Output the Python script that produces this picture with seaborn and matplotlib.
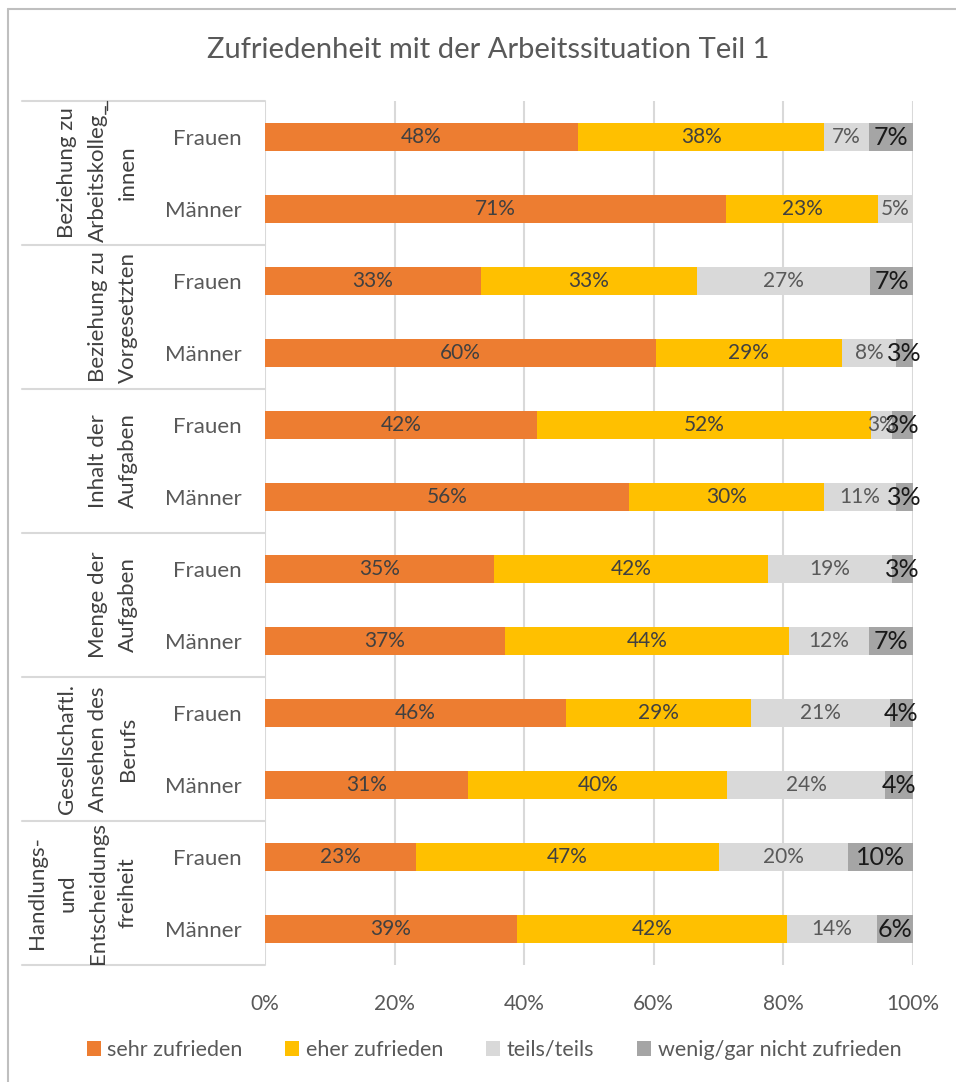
import numpy as np
import pandas as pd
import matplotlib
matplotlib.use("Agg")
import matplotlib.pyplot as plt
import matplotlib.transforms as mtransforms
from matplotlib.lines import Line2D
from matplotlib.patches import Patch
import seaborn as sns

# ---- data -------------------------------------------------------------
title = "Zufriedenheit mit der Arbeitssituation Teil 1"
groups = [
    "Beziehung zu\nArbeitskolleg_\ninnen",
    "Beziehung zu\nVorgesetzten",
    "Inhalt der\nAufgaben",
    "Menge der\nAufgaben",
    "Gesellschaftl.\nAnsehen des\nBerufs",
    "Handlungs-\nund\nEntscheidungs\nfreiheit",
]
genders = ["Frauen", "Männer"]
levels = ["sehr zufrieden", "eher zufrieden", "teils/teils", "wenig/gar nicht zufrieden"]

sehr = [48.3, 71.2, 33.3, 60.3, 42.0, 56.2, 35.3, 37.0, 46.4, 31.4, 23.3, 38.9]
eher = [38.0, 23.4, 33.4, 28.7, 51.5, 30.1, 42.3, 43.9, 28.6, 39.9, 46.7, 41.6]
teils = [6.9, 5.4, 26.7, 8.4, 3.3, 11.1, 19.2, 12.3, 21.4, 24.4, 20.0, 13.9]
wenig = [6.8, 0.0, 6.6, 2.6, 3.2, 2.6, 3.2, 6.8, 3.6, 4.3, 10.0, 5.6]

xticks = [0, 20, 40, 60, 80, 100]
colors = ["#ED7D31", "#FFC000", "#D9D9D9", "#A5A5A5"]

# ---- styling ----------------------------------------------------------
sns.set_theme(style="white")
plt.rcParams["font.family"] = ["Lato", "DejaVu Sans"]

W, H = 956, 1082
fig = plt.figure(figsize=(W / 100, H / 100), dpi=100)


def fx(px):
    return px / W


def fy(py):
    return 1 - py / H


ax_left, ax_right, ax_top, ax_bottom = 265, 913, 101, 965
ax = fig.add_axes([fx(ax_left), fy(ax_bottom), fx(ax_right - ax_left),
                   (ax_bottom - ax_top) / H])

rows = [f"{g}|{s}" for g in range(len(groups)) for s in genders]
values = np.array([sehr, eher, teils, wenig])
cum = np.cumsum(values, axis=0)
df = pd.DataFrame({"row": rows})
for i, lvl in enumerate(levels):
    df[lvl] = cum[i]

# stacked bars: draw the cumulative totals from the back to the front
for i in reversed(range(len(levels))):
    sns.barplot(data=df, x=levels[i], y="row", order=rows, orient="h",
                color=colors[i], saturation=1, width=0.4, linewidth=0,
                edgecolor="none", ax=ax, zorder=2)

ax.set_xlim(0, 100)
ax.set_ylim(len(rows) - 0.5, -0.5)
ax.set_xticks(xticks)
ax.set_xticklabels([f"{t}%" for t in xticks], fontsize=15, color="#595959")
ax.set_yticks(range(len(rows)))
ax.set_yticklabels([s for _ in groups for s in genders], fontsize=16,
                   color="#595959")
ax.tick_params(axis="x", length=0, pad=21)
ax.tick_params(axis="y", length=0, pad=17)
ax.set_xlabel("")
ax.set_ylabel("")
for sp in ax.spines.values():
    sp.set_visible(False)
ax.xaxis.grid(True, color="#D9D9D9", linewidth=1.5, zorder=0)
ax.yaxis.grid(False)
ax.set_axisbelow(True)

# value labels in the segments
for i in range(len(levels)):
    for r in range(len(rows)):
        v = values[i, r]
        if v <= 0:
            continue
        xc = cum[i, r] - v / 2
        if i == 3:
            ax.text(xc, r, f"{v:.0f}%", ha="center", va="center",
                    fontsize=18, color="#1a1a1a", zorder=5, clip_on=False)
        else:
            ax.text(xc, r, f"{v:.0f}%", ha="center", va="center",
                    fontsize=15, color="#404040" if i < 2 else "#595959",
                    zorder=5)

# group labels and separators of the two-level category axis
blend = mtransforms.blended_transform_factory(fig.transFigure, ax.transData)
for k in range(len(groups) + 1):
    yb = 2 * k - 0.5
    fig.add_artist(Line2D([fx(22), fx(ax_left)], [yb, yb], transform=blend,
                          color="#D9D9D9", linewidth=1.5))
fig.add_artist(Line2D([fx(107), fx(107)], [fy(101), fy(110)],
                      color="#404040", linewidth=1.0))
for g, name in enumerate(groups):
    fig.text(fx(138), 2 * g + 0.5, name, transform=blend, rotation=90,
             ha="right", va="center", multialignment="center",
             fontsize=16, color="#404040", linespacing=1.65)

# title
fig.text(fx(488), fy(50), title, ha="center", va="center", fontsize=21,
         color="#595959")

# legend
handles = [Patch(facecolor=c, edgecolor="none") for c in colors]
leg = fig.legend(handles, levels, loc="center", bbox_to_anchor=(fx(494), fy(1050)),
                 ncol=4, frameon=False, fontsize=15.5, handlelength=0.65,
                 handleheight=0.65, handletextpad=0.3, columnspacing=2.0)
for t in leg.get_texts():
    t.set_color("#595959")

# chart frame
fig.add_artist(Line2D([fx(8), fx(8)], [fy(9), 0], color="#BFBFBF", linewidth=1.5))
fig.add_artist(Line2D([fx(8), 1], [fy(9), fy(9)], color="#BFBFBF", linewidth=1.5))

fig.savefig("out.png", dpi=100)
